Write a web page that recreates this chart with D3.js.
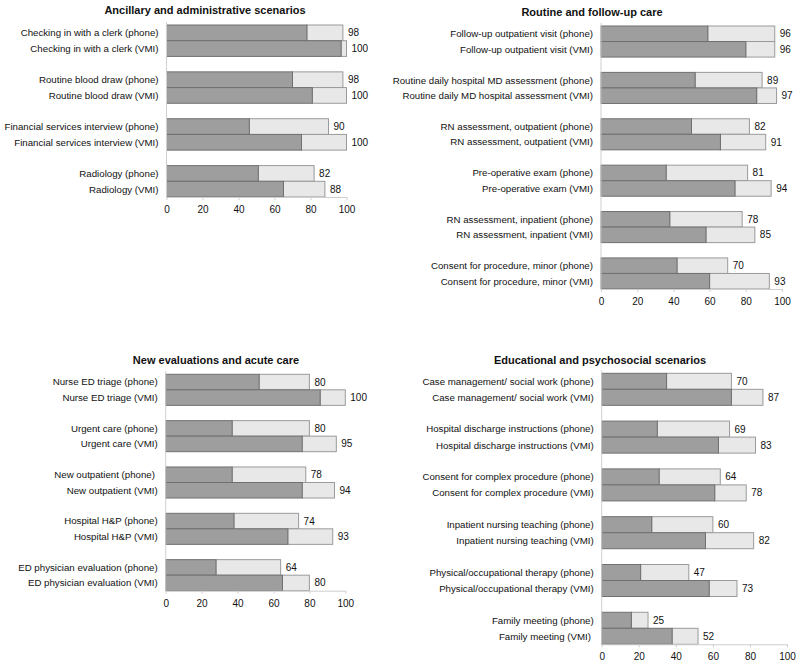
<!DOCTYPE html>
<html><head><meta charset="utf-8">
<script src="https://cdn.jsdelivr.net/npm/d3@7"></script>
<style>body{margin:0;background:#fff}svg{display:block}</style>
</head><body>
<svg id="c" width="800" height="667"></svg>
<script>
// ---------- DATA ----------
// Panel A: Ancillary and administrative scenarios
const titleA = "Ancillary and administrative scenarios";
const phoneLabelsA = ["Checking in with a clerk (phone)", "Routine blood draw (phone)", "Financial services interview (phone)", "Radiology (phone)"];
const vmiLabelsA = ["Checking in with a clerk (VMI)", "Routine blood draw (VMI)", "Financial services interview (VMI)", "Radiology (VMI)"];
const phoneDarkA = [78, 70, 46, 51];
const phoneTotalA = [98, 98, 90, 82];
const vmiDarkA = [97, 81, 75, 65];
const vmiTotalA = [100, 100, 100, 88];

// Panel B: Routine and follow-up care
const titleB = "Routine and follow-up care";
const phoneLabelsB = ["Follow-up outpatient visit (phone)", "Routine daily hospital MD assessment (phone)", "RN assessment, outpatient (phone)", "Pre-operative exam (phone)", "RN assessment, inpatient (phone)", "Consent for procedure, minor (phone)"];
const vmiLabelsB = ["Follow-up outpatient visit (VMI)", "Routine daily MD hospital assessment (VMI)", "RN assessment, outpatient (VMI)", "Pre-operative exam (VMI)", "RN assessment, inpatient (VMI)", "Consent for procedure, minor (VMI)"];
const phoneDarkB = [59, 52, 50, 36, 38, 42];
const phoneTotalB = [96, 89, 82, 81, 78, 70];
const vmiDarkB = [80, 86, 66, 74, 58, 60];
const vmiTotalB = [96, 97, 91, 94, 85, 93];

// Panel C: New evaluations and acute care
const titleC = "New evaluations and acute care";
const phoneLabelsC = ["Nurse ED triage (phone)", "Urgent care (phone)", "New outpatient (phone) ", "Hospital H&P (phone)", "ED physician evaluation (phone)"];
const vmiLabelsC = ["Nurse ED triage (VMI)", "Urgent care (VMI)", "New outpatient (VMI)", "Hospital H&P (VMI)", "ED physician evaluation (VMI)"];
const phoneDarkC = [52, 37, 37, 38, 28];
const phoneTotalC = [80, 80, 78, 74, 64];
const vmiDarkC = [86, 76, 76, 68, 65];
const vmiTotalC = [100, 95, 94, 93, 80];

// Panel D: Educational and psychosocial scenarios
const titleD = "Educational and psychosocial scenarios";
const phoneLabelsD = ["Case management/ social work (phone)", "Hospital discharge instructions (phone)", "Consent for complex procedure (phone)", "Inpatient nursing teaching (phone)", "Physical/occupational therapy (phone)", "Family meeting (phone)"];
const vmiLabelsD = ["Case management/ social work (VMI)", "Hospital discharge instructions (VMI)", "Consent for complex procedure (VMI)", "Inpatient nursing teaching (VMI)", "Physical/occupational therapy (VMI)", "Family meeting (VMI) "];
const phoneDarkD = [35, 30, 31, 27, 21, 16];
const phoneTotalD = [70, 69, 64, 60, 47, 25];
const vmiDarkD = [70, 63, 61, 56, 58, 38];
const vmiTotalD = [87, 83, 78, 82, 73, 52];

const xTicks = [0, 20, 40, 60, 80, 100];

// ---------- LAYOUT ----------
const FONT = "'Liberation Sans', Arial, Helvetica, sans-serif";
const panels = [
  {title: titleA, pl: phoneLabelsA, vl: vmiLabelsA, pd: phoneDarkA, pt: phoneTotalA, vd: vmiDarkA, vt: vmiTotalA,
   x0: 166.5, x1: 346.5, top: 25, axisY: 197, titleX: 205, titleY: 14},
  {title: titleB, pl: phoneLabelsB, vl: vmiLabelsB, pd: phoneDarkB, pt: phoneTotalB, vd: vmiDarkB, vt: vmiTotalB,
   x0: 601, x1: 782, top: 26, axisY: 289, titleX: 592, titleY: 16},
  {title: titleC, pl: phoneLabelsC, vl: vmiLabelsC, pd: phoneDarkC, pt: phoneTotalC, vd: vmiDarkC, vt: vmiTotalC,
   x0: 165.7, x1: 345.3, top: 374.3, axisY: 590.7, titleX: 216, titleY: 364},
  {title: titleD, pl: phoneLabelsD, vl: vmiLabelsD, pd: phoneDarkD, pt: phoneTotalD, vd: vmiDarkD, vt: vmiTotalD,
   x0: 601.7, x1: 787, top: 373.3, axisY: 644.3, titleX: 600, titleY: 364}
];

const svg = d3.select("#c");

panels.forEach(p => {
  const g = svg.append("g");
  const n = p.pl.length;
  const x = d3.scaleLinear().domain([0, 100]).range([p.x0, p.x1]);
  const y = d3.scaleBand().domain(d3.range(n)).range([p.top, p.axisY]).paddingInner(0.33).paddingOuter(0);
  const bh = y.bandwidth() / 2;

  const rows = [];
  for (let i = 0; i < n; i++) {
    rows.push({label: p.pl[i], dark: p.pd[i], total: p.pt[i], y: y(i)});
    rows.push({label: p.vl[i], dark: p.vd[i], total: p.vt[i], y: y(i) + bh});
  }

  g.append("text").attr("x", p.titleX).attr("y", p.titleY)
    .attr("text-anchor", "middle").attr("font-family", FONT)
    .attr("font-size", 11).attr("font-weight", "bold").attr("fill", "#111")
    .text(p.title);

  g.selectAll("rect.light").data(rows).enter().append("rect")
    .attr("class", "light")
    .attr("x", d => x(d.dark)).attr("y", d => d.y)
    .attr("width", d => x(d.total) - x(d.dark)).attr("height", bh)
    .attr("fill", "#e8e8e8").attr("stroke", "#9a9a9a").attr("stroke-width", 1);

  g.selectAll("rect.dark").data(rows).enter().append("rect")
    .attr("class", "dark")
    .attr("x", x(0)).attr("y", d => d.y)
    .attr("width", d => x(d.dark) - x(0)).attr("height", bh)
    .attr("fill", "#9e9e9e").attr("stroke", "#707070").attr("stroke-width", 1);

  g.selectAll("text.val").data(rows).enter().append("text")
    .attr("class", "val")
    .attr("x", d => x(d.total) + 5).attr("y", d => d.y + bh / 2)
    .attr("dy", "0.35em").attr("font-family", FONT).attr("font-size", 10).attr("fill", "#111")
    .text(d => d.total);

  g.selectAll("text.cat").data(rows).enter().append("text")
    .attr("class", "cat")
    .attr("x", x(0) - 8).attr("y", d => d.y + bh / 2)
    .attr("dy", "0.35em").attr("text-anchor", "end")
    .attr("font-family", FONT).attr("font-size", 9.7).attr("fill", "#111")
    .style("white-space", "pre")
    .text(d => d.label);

  g.append("line").attr("x1", x(0)).attr("x2", x(0))
    .attr("y1", p.top - 3).attr("y2", p.axisY)
    .attr("stroke", "#cfcfcf").attr("stroke-width", 1);

  const ax = g.append("g").attr("transform", `translate(0,${p.axisY})`)
    .call(d3.axisBottom(x).tickValues(xTicks).tickSize(3).tickPadding(6).tickSizeOuter(0));
  ax.select(".domain").attr("stroke", "#cfcfcf");
  ax.selectAll(".tick line").attr("stroke", "#cfcfcf");
  ax.selectAll(".tick text").attr("font-family", FONT).attr("font-size", 10).attr("fill", "#111");
});
</script>
</body></html>
